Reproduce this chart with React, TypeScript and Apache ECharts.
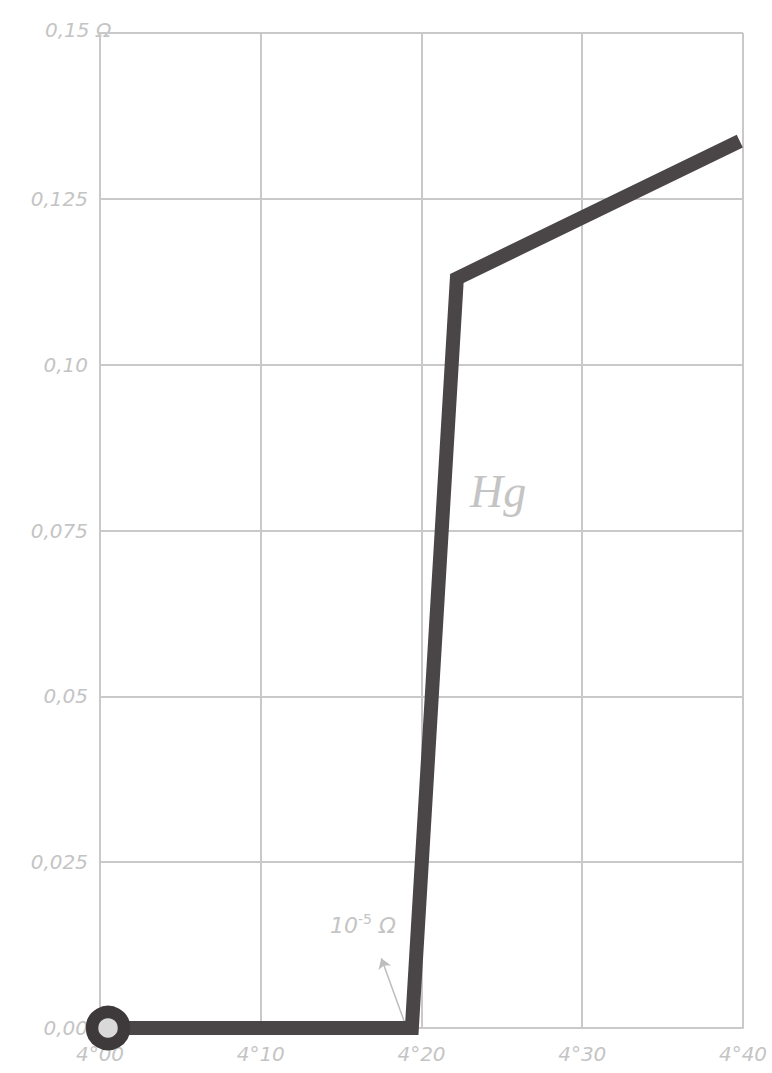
import React, { useEffect, useRef } from "react";
import * as echarts from "echarts";

const temperatures = [4.005, 4.194, 4.222, 4.398];
const resistance = [0.0, 0.0, 0.113, 0.1337];
const yTickLabels: Record<string, string> = {
  "0": "0,00",
  "0.025": "0,025",
  "0.05": "0,05",
  "0.075": "0,075",
  "0.1": "0,10",
  "0.125": "0,125",
  "0.15": "",
};
const xTickLabels: Record<string, string> = {
  "4": "4°00",
  "4.1": "4°10",
  "4.2": "4°20",
  "4.3": "4°30",
  "4.4": "4°40",
};
const arrowFrom = [4.19, 0.0005];
const arrowTo = [4.175, 0.0105];

const GRAY = "#c9c9c9";
const LABEL = "#c4c4c4";

export default function App() {
  const ref = useRef<HTMLDivElement>(null);
  useEffect(() => {
    if (!ref.current) return;
    const chart = echarts.init(ref.current, undefined, { renderer: "svg" });
    const data = temperatures.map((t, i) => [t, resistance[i]]);
    chart.setOption({
      animation: false,
      backgroundColor: "#ffffff",
      grid: { left: 100, right: 29, top: 33, bottom: 45, containLabel: false },
      xAxis: {
        type: "value",
        min: 4.0,
        max: 4.4,
        interval: 0.1,
        axisLine: { show: true, lineStyle: { color: GRAY, width: 2 } },
        axisTick: { show: false },
        splitLine: { show: true, lineStyle: { color: GRAY, width: 2 } },
        axisLabel: {
          color: LABEL,
          fontSize: 20,
          fontStyle: "italic",
          fontFamily: "DejaVu Sans",
          margin: 16,
          formatter: (v: number) => xTickLabels[String(Math.round(v * 10) / 10)] ?? "",
        },
      },
      yAxis: {
        type: "value",
        min: 0,
        max: 0.15,
        interval: 0.025,
        axisLine: { show: true, lineStyle: { color: GRAY, width: 2 } },
        axisTick: { show: false },
        splitLine: { show: true, lineStyle: { color: GRAY, width: 2 } },
        axisLabel: {
          color: LABEL,
          fontSize: 20,
          fontStyle: "italic",
          fontFamily: "DejaVu Sans",
          margin: 12,
          formatter: (v: number) => yTickLabels[String(Math.round(v * 1000) / 1000)] ?? "",
        },
      },
      graphic: [
        {
          type: "text",
          left: 45,
          top: 20,
          style: {
            text: "0,15 Ω",
            fill: LABEL,
            font: "italic 20px 'DejaVu Sans'",
          },
        },
        {
          type: "text",
          left: 470,
          top: 468,
          style: {
            text: "Hg",
            fill: LABEL,
            font: "italic 46px 'Liberation Serif'",
          },
        },
        {
          type: "text",
          left: 330,
          top: 912,
          style: {
            text: "{a|10}{b|-5}{a| Ω}",
            rich: {
              a: { fill: LABEL, fontSize: 22, fontFamily: "DejaVu Sans", fontStyle: "italic", verticalAlign: "bottom" },
              b: { fill: LABEL, fontSize: 14, fontFamily: "DejaVu Sans", verticalAlign: "top", padding: [0, 0, 10, 0] },
            },
          },
        },
      ],
      series: [
        {
          type: "line",
          data,
          showSymbol: false,
          symbol: "none",
          lineStyle: { color: "#4a4546", width: 14, cap: "butt", join: "miter" },
          silent: true,
          z: 3,
          markLine: {
            silent: true,
            symbol: ["none", "arrow"],
            symbolSize: 10,
            label: { show: false },
            lineStyle: { color: "#bdbdbd", width: 1.5, type: "solid" },
            data: [[{ coord: arrowFrom }, { coord: arrowTo }]],
            z: 2,
          },
        },
        {
          type: "scatter",
          data: [data[0]],
          symbol: "circle",
          symbolSize: 32,
          itemStyle: { color: "#d9d9d9", borderColor: "#3e393a", borderWidth: 12.5, opacity: 1 },
          silent: true,
          z: 4,
        },
      ],
    });
    return () => chart.dispose();
  }, []);
  return (
    <div
      ref={ref}
      style={{ position: "absolute", left: 0, top: 0, width: 772, height: 1073 }}
    />
  );
}
